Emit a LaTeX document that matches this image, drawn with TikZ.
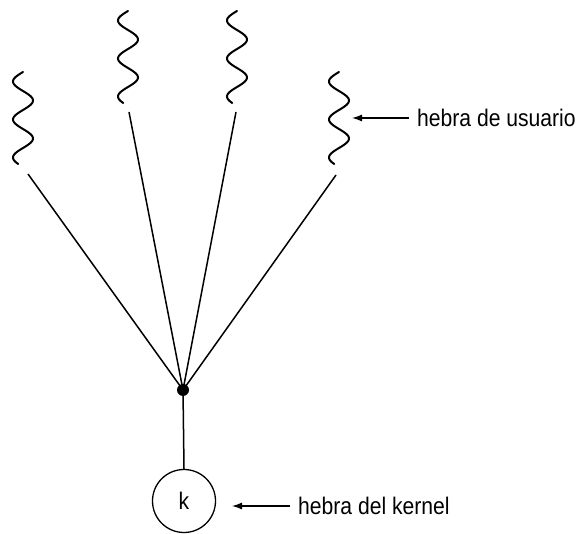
\documentclass[tikz,border=0pt]{standalone}
\usepackage{fontspec}
\setmainfont{Liberation Sans}
\newfontfamily\lblfont[FakeStretch=0.88]{Liberation Sans}
\usetikzlibrary{arrows.meta}
\tikzset{
  wave/.style={line width=2pt, line cap=round},
  spoke/.style={line width=1.5pt},
  lbl/.style={font=\lblfont\fontsize{24}{28}\selectfont, inner sep=0pt, anchor=west},
  pointer/.style={line width=1.3pt, -{Latex[length=10pt,width=7pt]}},
}
\begin{document}
\begin{tikzpicture}[x=1pt,y=-1pt]
\useasboundingbox (0,0) rectangle (578,534);
% wavy user threads
\foreach \c/\t in {23/72, 128/11, 237/11, 339/72}{
  \draw[wave] plot[domain=0:92, samples=90, smooth] ({\c-10*sin(9.4737*\x)}, {\t+\x});
}
% line starts
\coordinate (s1) at (28,174);
\coordinate (s2) at (129,112);
\coordinate (s3) at (236,112);
\coordinate (s4) at (336,175);
% hub
\node[circle, fill, inner sep=0pt, minimum size=12pt] (hub) at (183,390) {};
\foreach \s in {s1,s2,s3,s4}{
  \draw[spoke] (\s) -- (hub.center);
}
% kernel thread
\node[circle, draw, line width=1.3pt, minimum size=63pt, inner sep=0pt,
      font=\lblfont\fontsize{24}{28}\selectfont] (k) at (184,501) {k};
\draw[spoke] (hub.center) -- (k.north);
% labels
\node[lbl] (ku) at (417,118) {hebra de usuario};
\coordinate (ua) at (352,118);
\draw[pointer] ([xshift=-8pt]ku.west) -- (ua);
\node[lbl] (kk) at (298,506) {hebra del kernel};
\coordinate (ka) at (232,506);
\draw[pointer] ([xshift=-8pt]kk.west) -- (ka);
\end{tikzpicture}
\end{document}
